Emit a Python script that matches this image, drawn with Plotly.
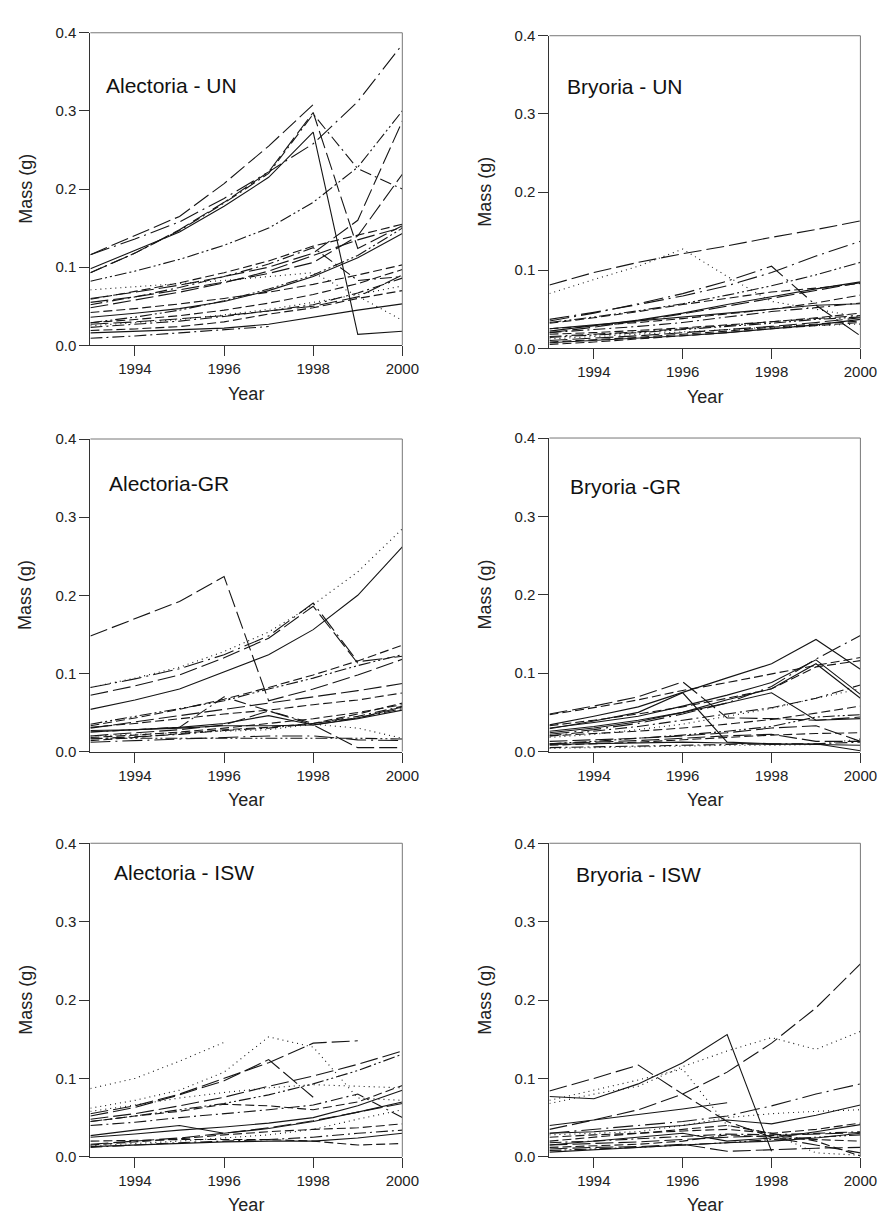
import plotly.graph_objects as go

years = [1993, 1994, 1995, 1996, 1997, 1998, 1999, 2000]

# ---------------- Alectoria - UN ----------------
alectoria_un = [
    [0.116, 0.140, 0.165, 0.207, 0.255, 0.308, None, None],
    [0.116, 0.136, 0.158, 0.188, 0.222, 0.258, 0.312, 0.385],
    [0.093, 0.118, 0.148, 0.183, 0.222, 0.298, 0.124, 0.153],
    [0.098, 0.121, 0.145, 0.178, 0.215, 0.273, 0.014, 0.018],
    [0.082, 0.095, 0.110, 0.128, 0.150, 0.183, 0.228, 0.300],
    [0.093, 0.118, 0.147, 0.182, 0.220, 0.296, 0.226, 0.200],
    [0.060, 0.068, 0.077, 0.088, 0.100, 0.118, 0.160, 0.287],
    [0.055, 0.062, 0.071, 0.081, 0.092, 0.106, 0.140, 0.219],
    [0.059, 0.069, 0.080, 0.093, 0.108, 0.127, 0.141, 0.155],
    [0.048, 0.058, 0.068, 0.080, 0.095, 0.115, 0.135, 0.151],
    [0.052, 0.062, 0.074, 0.088, 0.104, 0.125, 0.083, 0.088],
    [0.036, 0.041, 0.047, 0.056, 0.070, 0.088, 0.112, 0.143],
    [0.029, 0.036, 0.045, 0.057, 0.072, 0.090, 0.115, 0.150],
    [0.042, 0.047, 0.053, 0.060, 0.068, 0.078, 0.090, 0.103],
    [0.029, 0.033, 0.038, 0.045, 0.054, 0.065, 0.079, 0.097],
    [0.071, 0.075, 0.079, 0.083, 0.088, 0.093, 0.063, 0.032],
    [0.025, 0.029, 0.033, 0.039, 0.046, 0.055, 0.065, 0.076],
    [0.023, 0.027, 0.031, 0.037, 0.044, 0.052, 0.067, 0.086],
    [0.027, 0.030, 0.034, 0.038, 0.044, 0.050, 0.062, 0.090],
    [0.016, 0.018, 0.020, 0.022, 0.027, 0.036, 0.045, 0.053],
    [0.009, 0.012, 0.016, 0.020, 0.024, None, None, None],
    [0.019, 0.021, 0.024, 0.030, 0.040, 0.048, 0.060, 0.070],
]
alectoria_un_dash = ["longdash", "longdashdot", "longdash", "solid", "dashdotdot", "dashdot",
                     "longdash", "longdash", "dash", "longdash", "dashdot", "solid", "dashdotdot",
                     "dash", "dash", "dot", "dot", "dashdot", "longdash", "solid", "dashdot", "dash"]

# ---------------- Bryoria - UN ----------------
bryoria_un = [
    [0.081, 0.097, 0.110, 0.121, 0.131, 0.142, 0.152, 0.163],
    [0.070, 0.088, 0.105, 0.127, 0.092, 0.060, 0.050, 0.040],
    [0.037, 0.046, 0.056, 0.067, 0.080, 0.097, 0.118, 0.137],
    [0.035, 0.045, 0.057, 0.070, 0.086, 0.105, 0.055, 0.016],
    [0.033, 0.040, 0.048, 0.057, 0.068, 0.080, 0.094, 0.110],
    [0.032, 0.039, 0.047, 0.056, 0.064, 0.072, 0.077, 0.083],
    [0.022, 0.029, 0.036, 0.045, 0.056, 0.066, 0.076, 0.085],
    [0.020, 0.027, 0.035, 0.044, 0.054, 0.064, 0.074, 0.084],
    [0.025, 0.029, 0.033, 0.038, 0.044, 0.050, 0.058, 0.068],
    [0.025, 0.030, 0.035, 0.040, 0.045, 0.050, 0.055, 0.057],
    [0.018, 0.020, 0.023, 0.026, 0.030, 0.034, 0.039, 0.045],
    [0.015, 0.018, 0.021, 0.025, 0.029, 0.034, 0.038, 0.042],
    [0.007, 0.010, 0.013, 0.016, 0.020, 0.025, 0.030, 0.037],
    [0.012, 0.015, 0.018, 0.021, 0.024, 0.027, 0.029, 0.031],
    [0.010, 0.013, 0.016, 0.020, 0.024, 0.028, 0.033, 0.039],
    [0.014, 0.017, 0.020, 0.024, 0.028, 0.032, 0.037, 0.040],
    [0.008, 0.011, 0.014, 0.018, 0.022, 0.027, 0.031, 0.035],
    [0.020, 0.024, 0.028, 0.033, 0.040, 0.047, 0.052, 0.058],
    [0.005, 0.008, 0.012, 0.016, 0.020, 0.025, 0.029, 0.033],
]
bryoria_un_dash = ["longdash", "dot", "longdashdot", "longdashdot", "dashdotdot", "dash", "solid",
                   "longdash", "dash", "solid", "dash", "dashdot", "solid", "dot", "longdash",
                   "dashdotdot", "dash", "dashdot", "dash"]

# ---------------- Alectoria - GR ----------------
alectoria_gr = [
    [0.148, 0.170, 0.192, 0.224, 0.065, 0.080, 0.098, 0.118],
    [0.082, 0.094, 0.108, 0.128, 0.153, 0.188, 0.230, 0.285],
    [0.082, 0.093, 0.106, 0.124, 0.148, 0.190, 0.115, 0.122],
    [0.072, 0.084, 0.098, 0.120, 0.145, 0.186, 0.113, None],
    [0.054, 0.066, 0.080, 0.102, 0.124, 0.156, 0.200, 0.262],
    [0.035, 0.045, 0.055, 0.065, 0.080, 0.094, 0.110, 0.124],
    [0.033, 0.043, 0.054, 0.067, 0.082, 0.098, 0.116, 0.136],
    [0.030, 0.038, 0.046, 0.054, 0.062, 0.070, 0.078, 0.087],
    [0.031, 0.036, 0.042, 0.048, 0.053, 0.060, 0.066, 0.075],
    [0.025, 0.028, 0.031, 0.070, 0.052, 0.036, 0.043, 0.055],
    [0.020, 0.024, 0.028, 0.034, 0.052, 0.034, 0.005, 0.005],
    [0.017, 0.017, 0.017, 0.017, 0.017, 0.017, 0.017, 0.016],
    [0.020, 0.022, 0.024, 0.026, 0.028, 0.035, 0.030, 0.017],
    [0.027, 0.028, 0.030, 0.033, 0.033, 0.034, 0.042, 0.053],
    [0.016, 0.019, 0.022, 0.027, 0.030, 0.036, 0.045, 0.058],
    [0.014, 0.018, 0.023, 0.028, 0.031, 0.036, 0.048, 0.062],
    [0.025, 0.028, 0.031, 0.036, 0.046, 0.034, 0.043, 0.057],
    [0.012, 0.014, 0.016, 0.018, 0.020, 0.020, 0.015, 0.014],
    [0.018, 0.021, 0.025, 0.030, 0.036, 0.042, 0.050, 0.060],
]
alectoria_gr_dash = ["longdash", "dot", "longdashdot", "longdash", "solid", "dashdotdot", "dash",
                     "longdash", "dash", "dashdot", "longdash", "dashdotdot", "dot", "solid",
                     "dashdot", "dash", "solid", "longdashdot", "dash"]

# ---------------- Bryoria - GR ----------------
bryoria_gr = [
    [0.034, 0.045, 0.057, 0.076, 0.094, 0.112, 0.143, 0.105],
    [0.030, 0.037, 0.045, 0.058, 0.072, 0.088, 0.117, 0.073],
    [0.024, 0.030, 0.038, 0.050, 0.066, 0.080, 0.112, 0.068],
    [0.048, 0.058, 0.070, 0.089, 0.043, 0.042, 0.040, 0.044],
    [0.047, 0.056, 0.066, 0.078, 0.088, 0.099, 0.110, 0.120],
    [0.022, 0.028, 0.036, 0.048, 0.062, 0.083, 0.118, 0.148],
    [0.033, 0.040, 0.048, 0.057, 0.068, 0.080, 0.108, 0.116],
    [0.029, 0.039, 0.050, 0.075, 0.012, 0.010, 0.009, 0.008],
    [0.026, 0.032, 0.040, 0.050, 0.062, 0.075, 0.040, 0.042],
    [0.020, 0.026, 0.032, 0.040, 0.048, 0.056, 0.068, 0.085],
    [0.018, 0.022, 0.028, 0.035, 0.045, 0.055, 0.068, 0.080],
    [0.020, 0.023, 0.026, 0.030, 0.035, 0.041, 0.049, 0.058],
    [0.010, 0.013, 0.017, 0.021, 0.026, 0.032, 0.044, 0.047],
    [0.013, 0.015, 0.017, 0.020, 0.024, 0.030, 0.033, 0.013],
    [0.008, 0.010, 0.012, 0.015, 0.018, 0.021, 0.023, 0.024],
    [0.005, 0.006, 0.007, 0.008, 0.009, 0.010, 0.010, 0.012],
    [0.009, 0.010, 0.011, 0.012, 0.011, 0.009, 0.010, 0.001],
    [0.004, 0.005, 0.006, 0.007, 0.008, 0.008, 0.009, 0.016],
    [0.010, 0.012, 0.014, 0.017, 0.020, 0.022, 0.013, 0.013],
]
bryoria_gr_dash = ["solid", "solid", "solid", "longdash", "dash", "longdashdot", "dash", "solid",
                   "solid", "dashdot", "dot", "dash", "dashdotdot", "longdash", "dash", "dashdot",
                   "solid", "dot", "longdash"]

# ---------------- Alectoria - ISW ----------------
alectoria_isw = [
    [0.087, 0.100, 0.122, 0.146, None, None, None, None],
    [0.062, 0.072, 0.085, 0.108, 0.153, 0.140, 0.075, 0.072],
    [0.055, 0.065, 0.080, 0.100, 0.120, 0.145, 0.148, None],
    [0.052, 0.063, 0.079, 0.097, 0.124, 0.076, None, None],
    [0.048, 0.055, 0.065, 0.076, 0.090, 0.103, 0.118, 0.135],
    [0.045, 0.052, 0.060, 0.068, 0.079, 0.093, 0.110, 0.131],
    [0.045, 0.052, 0.058, 0.067, 0.065, 0.060, 0.070, 0.091],
    [0.025, 0.029, 0.034, 0.038, 0.043, 0.050, 0.065, 0.085],
    [0.027, 0.034, 0.040, 0.030, 0.036, 0.045, 0.057, 0.070],
    [0.040, 0.044, 0.050, 0.055, 0.060, 0.066, 0.080, 0.050],
    [0.020, 0.021, 0.022, 0.022, 0.022, 0.020, 0.015, 0.017],
    [0.013, 0.015, 0.017, 0.019, 0.020, 0.020, 0.024, 0.030],
    [0.015, 0.019, 0.023, 0.028, 0.032, 0.035, 0.037, 0.042],
    [0.014, 0.017, 0.020, 0.024, 0.028, 0.035, 0.048, 0.060],
    [0.016, 0.020, 0.024, 0.030, 0.037, 0.046, 0.057, 0.068],
    [0.012, 0.015, 0.018, 0.020, 0.022, 0.025, 0.030, 0.034],
    [0.058, 0.066, 0.075, 0.082, 0.088, 0.092, 0.090, 0.088],
]
alectoria_isw_dash = ["dot", "dot", "longdash", "longdash", "longdash", "dashdotdot", "dash",
                      "solid", "solid", "dashdot", "dash", "solid", "dash", "dot", "longdash",
                      "dashdot", "dot"]

# ---------------- Bryoria - ISW ----------------
bryoria_isw = [
    [0.077, 0.074, 0.093, 0.120, 0.156, 0.007, None, None],
    [0.084, 0.100, 0.117, 0.080, 0.045, 0.025, 0.015, 0.005],
    [0.035, 0.047, 0.060, 0.080, 0.108, 0.145, 0.190, 0.246],
    [0.068, 0.080, 0.090, 0.115, 0.135, 0.152, 0.137, 0.160],
    [0.072, 0.085, 0.098, 0.112, 0.040, 0.030, 0.005, 0.002],
    [0.030, 0.035, 0.040, 0.045, 0.052, 0.065, 0.080, 0.093],
    [0.040, 0.047, 0.054, 0.061, 0.069, None, None, None],
    [0.030, 0.032, 0.036, 0.040, 0.047, 0.042, 0.053, 0.066],
    [0.028, 0.030, 0.032, 0.040, 0.050, 0.055, 0.058, 0.060],
    [0.020, 0.025, 0.030, 0.035, 0.040, 0.030, 0.035, 0.043],
    [0.015, 0.020, 0.025, 0.030, 0.020, 0.024, 0.032, 0.041],
    [0.018, 0.020, 0.023, 0.026, 0.029, 0.028, 0.030, 0.032],
    [0.010, 0.012, 0.013, 0.016, 0.007, 0.009, 0.011, 0.012],
    [0.012, 0.014, 0.016, 0.020, 0.028, 0.025, 0.022, 0.020],
    [0.008, 0.010, 0.012, 0.015, 0.018, 0.022, 0.025, 0.028],
    [0.006, 0.009, 0.012, 0.015, 0.018, 0.020, 0.024, 0.030],
    [0.015, 0.017, 0.019, 0.022, 0.025, 0.027, 0.029, 0.031],
    [0.025, 0.028, 0.030, 0.033, 0.035, 0.030, 0.020, 0.001],
]
bryoria_isw_dash = ["solid", "longdash", "longdash", "dot", "dot", "longdashdot", "solid", "solid",
                    "dot", "dash", "solid", "dashdot", "longdash", "dash", "dashdotdot", "solid",
                    "longdash", "dash"]

panel_titles = ["Alectoria - UN", "Bryoria - UN", "Alectoria-GR", "Bryoria -GR",
                "Alectoria - ISW", "Bryoria - ISW"]
y_ticks = [0.0, 0.1, 0.2, 0.3, 0.4]
x_ticks = [1994, 1996, 1998, 2000]

# ---------------- styling / layout ----------------
W, H = 890, 1213
FONT = "Liberation Sans, Arial, Helvetica, sans-serif"
DASHES = {
    "solid": "solid",
    "dot": "1px,4px",
    "dash": "9px,4px",
    "longdash": "18px,5px",
    "dashdot": "12px,4px,2px,4px",
    "longdashdot": "20px,5px,2px,5px",
    "dashdotdot": "12px,3px,2px,3px,2px,3px",
}

# panel boxes in pixels: left, right, top, bottom, title-left, title-center-y
boxes = [
    (84, 402, 16, 333, 98, 69),
    (552, 869, 19, 336, 568, 70),
    (84, 402, 428, 745, 101, 473),
    (552, 869, 427, 745, 571, 476),
    (84, 402, 838, 1156, 106, 868),
    (552, 869, 838, 1156, 577, 870),
]
data_sets = [(alectoria_un, alectoria_un_dash), (bryoria_un, bryoria_un_dash),
             (alectoria_gr, alectoria_gr_dash), (bryoria_gr, bryoria_gr_dash),
             (alectoria_isw, alectoria_isw_dash), (bryoria_isw, bryoria_isw_dash)]


def xp(p):
    return p / W


def yp(p):
    return 1 - p / H


fig = go.Figure()
layout = dict(width=W, height=H, margin=dict(l=0, r=0, t=0, b=0),
              paper_bgcolor="white", plot_bgcolor="white", showlegend=False,
              font=dict(family=FONT, color="#222"))
annotations = []
shapes = []

for i, ((vals, dashes), (l, r, t, b, tx, ty), title) in enumerate(zip(data_sets, boxes, panel_titles)):
    n = i + 1
    xa = "x" if n == 1 else f"x{n}"
    ya = "y" if n == 1 else f"y{n}"
    for series, d in zip(vals, dashes):
        fig.add_trace(go.Scatter(x=years, y=series, mode="lines", xaxis=xa, yaxis=ya,
                                 line=dict(color="#151515", width=1.1, dash=DASHES[d]),
                                 connectgaps=False, hoverinfo="skip"))
    axis_common = dict(showline=True, linecolor="#333", linewidth=1, ticks="outside",
                       ticklen=10, tickcolor="#333", tickwidth=1, showgrid=False,
                       zeroline=False, tickfont=dict(size=15, family=FONT, color="#222"))
    layout["xaxis" if n == 1 else f"xaxis{n}"] = dict(
        domain=[xp(l), xp(r)], range=[1993, 2000], tickvals=x_ticks,
        anchor=ya, **axis_common)
    layout["yaxis" if n == 1 else f"yaxis{n}"] = dict(
        domain=[yp(b), yp(t)], range=[0, 0.4], tickvals=y_ticks, tickformat=".1f",
        anchor=xa, **axis_common)
    # top / right frame lines (lighter)
    shapes.append(dict(type="line", xref="paper", yref="paper", x0=xp(l), x1=xp(r),
                       y0=yp(t), y1=yp(t), line=dict(color="#777", width=1)))
    shapes.append(dict(type="line", xref="paper", yref="paper", x0=xp(r), x1=xp(r),
                       y0=yp(t), y1=yp(b), line=dict(color="#777", width=1)))
    annotations.append(dict(text=title, xref="paper", yref="paper", x=xp(tx), y=yp(ty),
                            xanchor="left", yanchor="middle", showarrow=False,
                            font=dict(size=21, family=FONT, color="#111")))
    annotations.append(dict(text="Mass (g)", xref="paper", yref="paper", x=xp(l - 66),
                            y=yp((t + b) / 2), xanchor="center", yanchor="middle",
                            textangle=-90, showarrow=False,
                            font=dict(size=18, family=FONT, color="#222")))
    annotations.append(dict(text="Year", xref="paper", yref="paper", x=xp((l + r) / 2),
                            y=yp(b + 49), xanchor="center", yanchor="middle",
                            showarrow=False, font=dict(size=18, family=FONT, color="#222")))

layout["annotations"] = annotations
layout["shapes"] = shapes
fig.update_layout(**layout)
fig.write_html("out.html")
